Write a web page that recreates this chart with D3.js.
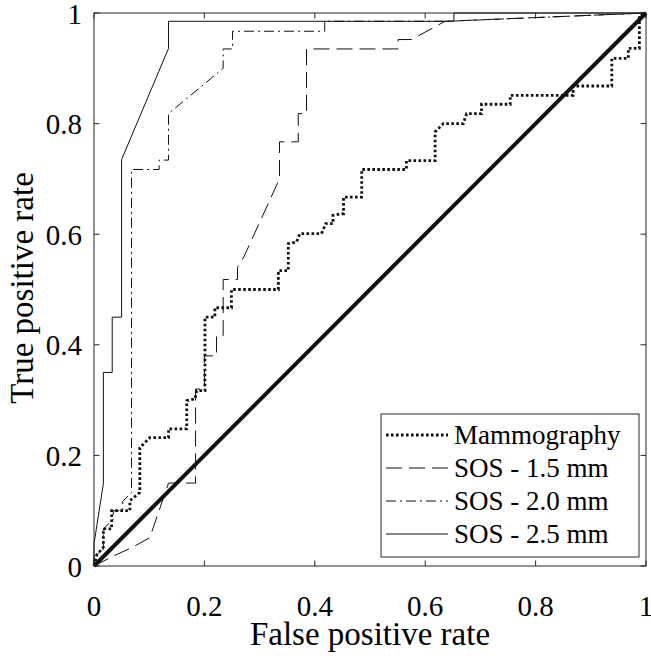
<!DOCTYPE html>
<html lang="en">

<head>
    <meta charset="UTF-8">
    <title>ROC curves</title>
    <style>
        body {
            padding: 0;
            margin: 0;
            background: #fff;
        }
    </style>
</head>

<body>
    <script src="https://d3js.org/d3.v7.min.js"></script>
    <script>
        // ROC points [fpr, tpr]
        const mammoFpr = [0, 0.005, 0.017, 0.017, 0.032, 0.032, 0.05, 0.065, 0.065, 0.083, 0.083, 0.101, 0.135, 0.135,
            0.168, 0.168, 0.183, 0.186, 0.201, 0.201, 0.219, 0.219, 0.249, 0.249, 0.334, 0.334, 0.352, 0.352, 0.367,
            0.373, 0.412, 0.42, 0.433, 0.433, 0.449, 0.452, 0.452, 0.485, 0.485, 0.566, 0.566, 0.618, 0.618, 0.633,
            0.669, 0.675, 0.702, 0.702, 0.754, 0.754, 0.868, 0.868, 0.938, 0.938, 0.968, 0.968, 0.988, 0.988, 1
        ]
        const mammoTpr = [0, 0.02, 0.034, 0.067, 0.067, 0.1, 0.1, 0.1, 0.118, 0.133, 0.214, 0.232, 0.232, 0.248,
            0.248, 0.299, 0.302, 0.317, 0.317, 0.45, 0.45, 0.467, 0.467, 0.5, 0.5, 0.534, 0.534, 0.583, 0.586,
            0.601, 0.601, 0.619, 0.619, 0.634, 0.637, 0.637, 0.667, 0.667, 0.717, 0.717, 0.733, 0.733, 0.785,
            0.8, 0.8, 0.818, 0.818, 0.835, 0.835, 0.851, 0.851, 0.868, 0.868, 0.918, 0.918, 0.936, 0.936, 0.996, 1
        ]

        const sos15Fpr = [0, 0.035, 0.068, 0.101, 0.135, 0.154, 0.184, 0.184, 0.2, 0.2, 0.222, 0.222, 0.234, 0.234,
            0.26, 0.26, 0.272, 0.336, 0.336, 0.37, 0.37, 0.385, 0.385, 0.551, 0.551, 0.575, 0.636, 1
        ]
        const sos15Tpr = [0, 0.018, 0.033, 0.051, 0.15, 0.15, 0.15, 0.32, 0.32, 0.38, 0.38, 0.417, 0.417, 0.518,
            0.518, 0.54, 0.56, 0.7, 0.767, 0.767, 0.818, 0.818, 0.935, 0.935, 0.952, 0.952, 0.985, 1
        ]

        const sos20Fpr = [0, 0, 0.017, 0.017, 0.035, 0.035, 0.052, 0.052, 0.068, 0.068, 0.118, 0.118, 0.135, 0.135,
            0.234, 0.234, 0.251, 0.251, 0.418, 0.418, 0.64, 1
        ]
        const sos20Tpr = [0, 0.017, 0.03, 0.067, 0.085, 0.1, 0.1, 0.117, 0.133, 0.717, 0.717, 0.734, 0.734, 0.818,
            0.9, 0.935, 0.935, 0.967, 0.967, 0.985, 0.985, 1
        ]

        const sos25Fpr = [0, 0, 0.017, 0.017, 0.033, 0.033, 0.05, 0.05, 0.135, 0.135, 0.652, 0.652, 1]
        const sos25Tpr = [0, 0.04, 0.149, 0.35, 0.35, 0.45, 0.45, 0.735, 0.936, 0.985, 0.985, 1, 1]

        const seriesNames = ['Mammography', 'SOS - 1.5 mm', 'SOS - 2.0 mm', 'SOS - 2.5 mm']
        const ticks = [0, 0.2, 0.4, 0.6, 0.8, 1]

        const zip = (a, b) => a.map((v, i) => [v, b[i]])
        const series = [
            { name: seriesNames[0], pts: zip(mammoFpr, mammoTpr), dash: '2.6,2.4', w: 2.8 },
            { name: seriesNames[1], pts: zip(sos15Fpr, sos15Tpr), dash: '16,7', w: 1 },
            { name: seriesNames[2], pts: zip(sos20Fpr, sos20Tpr), dash: '10,4,2,4', w: 1 },
            { name: seriesNames[3], pts: zip(sos25Fpr, sos25Tpr), dash: null, w: 1 }
        ]

        const width = 651, height = 656
        const pLeft = 94, pRight = 646, pTop = 13, pBottom = 566
        const serif = '"Liberation Serif"'

        const svg = d3.select('body').append('svg')
            .attr('width', width)
            .attr('height', height)

        const x = d3.scaleLinear().domain([0, 1]).range([pLeft, pRight])
        const y = d3.scaleLinear().domain([0, 1]).range([pBottom, pTop])

        // tick marks on all four sides, inward
        const tl = 5.5
        const axCol = '#262626'
        const tg = svg.append('g').attr('stroke', axCol).attr('stroke-width', 1)
        ticks.forEach(t => {
            tg.append('line').attr('x1', x(t)).attr('x2', x(t)).attr('y1', pBottom).attr('y2', pBottom - tl)
            tg.append('line').attr('x1', x(t)).attr('x2', x(t)).attr('y1', pTop).attr('y2', pTop + tl)
            tg.append('line').attr('y1', y(t)).attr('y2', y(t)).attr('x1', pLeft).attr('x2', pLeft + tl)
            tg.append('line').attr('y1', y(t)).attr('y2', y(t)).attr('x1', pRight).attr('x2', pRight - tl)
        })

        // tick labels
        svg.append('g').selectAll('text').data(ticks).enter().append('text')
            .attr('x', d => x(d)).attr('y', 616)
            .attr('text-anchor', 'middle')
            .style('font-family', serif).attr('font-size', 29)
            .text(d => d3.format('~g')(d))
        svg.append('g').selectAll('text').data(ticks).enter().append('text')
            .attr('x', 82).attr('y', d => y(d) + 1).attr('dy', '0.33em')
            .attr('text-anchor', 'end')
            .style('font-family', serif).attr('font-size', 29)
            .text(d => d3.format('~g')(d))

        // axis titles
        svg.append('text').attr('x', 370).attr('y', 645)
            .attr('text-anchor', 'middle').style('font-family', serif).attr('font-size', 33)
            .text('False positive rate')
        svg.append('text').attr('transform', 'translate(33,288) rotate(-90)')
            .attr('text-anchor', 'middle').style('font-family', serif).attr('font-size', 33)
            .text('True positive rate')

        const line = d3.line().x(d => x(d[0])).y(d => y(d[1]))
        const plot = svg.append('g')

        // chance diagonal
        plot.append('path').attr('d', line([[0, 0], [1, 1]]))
            .attr('fill', 'none').attr('stroke', '#111').attr('stroke-width', 4)

        plot.selectAll('path.roc').data(series).enter().append('path')
            .attr('class', 'roc')
            .attr('d', d => line(d.pts))
            .attr('fill', 'none')
            .attr('stroke', '#111')
            .attr('stroke-width', d => d.w)
            .attr('stroke-dasharray', d => d.dash)

        // axes box
        svg.append('rect').attr('x', pLeft).attr('y', pTop)
            .attr('width', pRight - pLeft).attr('height', pBottom - pTop)
            .attr('fill', 'none').attr('stroke', axCol).attr('stroke-width', 1)

        // legend
        const lg = svg.append('g')
        lg.append('rect').attr('x', 381).attr('y', 414).attr('width', 258).attr('height', 143)
            .attr('fill', '#fff').attr('stroke', axCol).attr('stroke-width', 1)
        series.forEach((s, i) => {
            const cy = 435 + i * 33
            lg.append('line').attr('x1', 386).attr('x2', 448).attr('y1', cy).attr('y2', cy)
                .attr('stroke', '#111').attr('stroke-width', s.w)
                .attr('stroke-dasharray', s.dash)
            lg.append('text').attr('x', 454).attr('y', cy).attr('dy', '0.33em')
                .style('font-family', serif).attr('font-size', 27)
                .text(s.name)
        })
    </script>
</body>

</html>
